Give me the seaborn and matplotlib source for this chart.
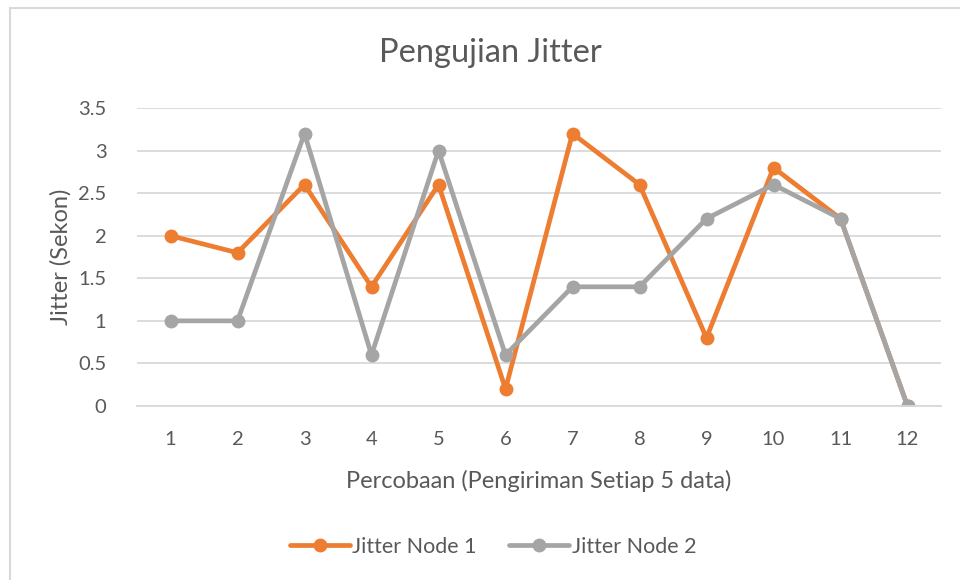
import matplotlib
matplotlib.use("Agg")
import matplotlib.pyplot as plt
import seaborn as sns
import pandas as pd
from matplotlib.patches import Rectangle

trials = [1, 2, 3, 4, 5, 6, 7, 8, 9, 10, 11, 12]
node1 = [2.0, 1.8, 2.6, 1.4, 2.6, 0.2, 3.2, 2.6, 0.8, 2.8, 2.2, 0.0]
node2 = [1.0, 1.0, 3.2, 0.6, 3.0, 0.6, 1.4, 1.4, 2.2, 2.6, 2.2, 0.0]
series_names = ["Jitter Node 1", "Jitter Node 2"]
yticks = [0, 0.5, 1, 1.5, 2, 2.5, 3, 3.5]
ytick_labels = ["0", "0.5", "1", "1.5", "2", "2.5", "3", "3.5"]

df = pd.DataFrame({
    "x": trials * 2,
    "value": node1 + node2,
    "series": [series_names[0]] * len(trials) + [series_names[1]] * len(trials),
})

sns.set_theme(style="white")
plt.rcParams["font.family"] = ["Lato", "DejaVu Sans"]
txt = "#595959"

fig = plt.figure(figsize=(9.6, 5.8), dpi=100)
fig.patches.append(Rectangle((10 / 960, -0.05), 1.0, 1 - 8 / 580 + 0.05,
                             transform=fig.transFigure, fill=False,
                             edgecolor="#D9D9D9", linewidth=1.5))
ax = fig.add_axes([137 / 960, 1 - 406 / 580, (941 - 137) / 960, (406 - 108) / 580])

palette = {series_names[0]: "#ED7D31", series_names[1]: "#A5A5A5"}
sns.lineplot(data=df, x="x", y="value", hue="series", palette=palette,
             marker="o", markersize=10, markeredgewidth=0, linewidth=3.4,
             ax=ax, legend=True)

ax.set_xlim(0.5, 12.5)
ax.set_ylim(0, 3.5)
ax.set_xticks(trials)
ax.set_xticklabels([str(t) for t in trials])
ax.set_yticks(yticks)
ax.set_yticklabels(ytick_labels)
ax.yaxis.grid(True, color="#D9D9D9", linewidth=1.3)
ax.set_axisbelow(True)
for s in ["top", "right", "left"]:
    ax.spines[s].set_visible(False)
ax.spines["bottom"].set_color("#D9D9D9")
ax.spines["bottom"].set_linewidth(1.3)
ax.tick_params(axis="both", length=0, labelsize=14.5, colors=txt)
ax.tick_params(axis="y", pad=22)
ax.tick_params(axis="x", pad=18)
ax.set_xlabel("Percobaan (Pengiriman Setiap 5 data)", fontsize=17, color=txt, labelpad=16)
ax.set_ylabel("Jitter (Sekon)", fontsize=17, color=txt, labelpad=5)

fig.text(490 / 960, 1 - 53 / 580, "Pengujian Jitter", ha="center", va="center",
         fontsize=23.5, color=txt)

handles, labels = ax.get_legend_handles_labels()
ax.legend_.remove()
fig.legend(handles, labels, loc="center", bbox_to_anchor=(493 / 960, 1 - 547 / 580),
           ncol=2, frameon=False, fontsize=15.5, labelcolor=txt,
           handlelength=2.8, handletextpad=0.1, columnspacing=1.5)

fig.savefig("out.png", dpi=100)
